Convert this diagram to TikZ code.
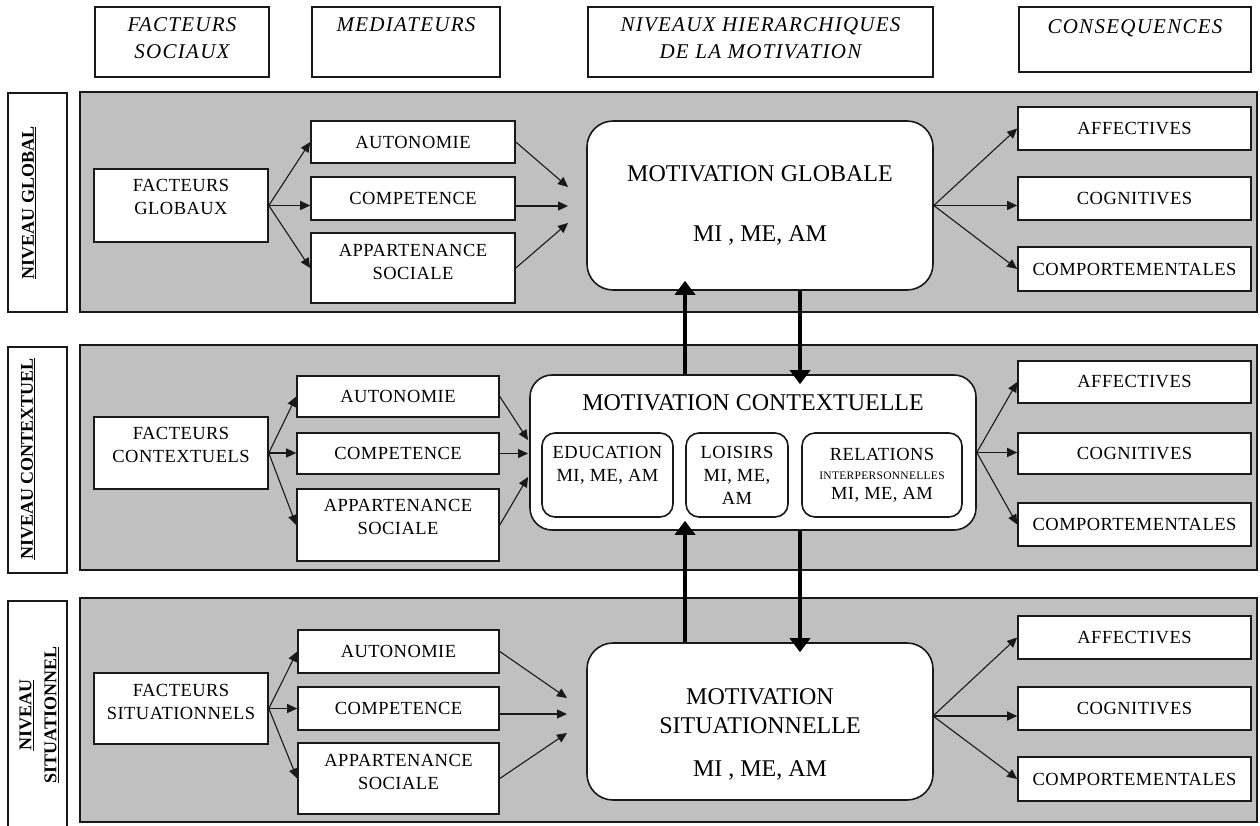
\documentclass[tikz,border=0pt]{standalone}
\usepackage{fontspec}
\setmainfont{Liberation Serif}
\newfontfamily\headfam[LetterSpace=6]{Liberation Serif}
\newfontfamily\bodyfam[LetterSpace=2.5]{Liberation Serif}
\usetikzlibrary{arrows.meta,calc}
\definecolor{bandgrey}{RGB}{192,192,192}
\definecolor{linec}{RGB}{25,25,25}
\newcommand\fBody{\bodyfam\fontsize{18.5}{23}\selectfont}
\newcommand\fHead{\headfam\fontsize{21}{27}\selectfont\itshape}
\newcommand\fBig{\fontsize{24}{29}\selectfont}
\newcommand\fTiny{\fontsize{11.5}{13}\selectfont}
\newcommand\fLab{\fontsize{18}{25}\selectfont\bfseries}
\begin{document}
\begin{tikzpicture}[x=1pt,y=-1pt,
  box/.style={draw=linec,line width=1.6pt,fill=white,inner sep=0pt,align=center,font=\fBody},
  rbox/.style={box,rounded corners=#1},
  txt/.style={inner sep=0pt,align=center,font=\fBody},
  htxt/.style={inner sep=0pt,align=center,font=\fHead},
  band/.style={draw=linec,line width=1.6pt,fill=bandgrey,inner sep=0pt},
  labbox/.style={draw=linec,line width=1.6pt,fill=white,inner sep=0pt},
  labtxt/.style={inner sep=0pt,align=center,font=\fLab,rotate=90},
  tarrow/.style={draw=linec,line width=1.1pt,-{Triangle[length=10pt,width=9pt]}},
  barrow/.style={draw=black,line width=4pt,-{Triangle[length=14pt,width=20pt]},shorten >=-10pt},
]
\fill[white] (0,0) rectangle (1260,825);
\useasboundingbox (0,0) rectangle (1260,825);

% ---------- headers ----------
\node[box, minimum width=174, minimum height=70] (hfs) at (182,42) {};
\node[htxt] (hfs-t) at (182,38.5) {FACTEURS\\SOCIAUX};
\node[box, minimum width=188, minimum height=70] (hmed) at (406,42) {};
\node[htxt] (hmed-t) at (406,25) {MEDIATEURS};
\node[box, minimum width=345, minimum height=70] (hniv) at (760.5,42) {};
\node[htxt] (hniv-t) at (760.5,38.5) {NIVEAUX HIERARCHIQUES\\DE LA MOTIVATION};
\node[box, minimum width=232, minimum height=65] (hcons) at (1135,39.5) {};
\node[htxt] (hcons-t) at (1135,28) {CONSEQUENCES};

% ---------- bands and side labels ----------
\node[band, minimum width=1177, minimum height=220] (band1) at (668.5,202) {};
\node[band, minimum width=1177, minimum height=225] (band2) at (668.5,457.5) {};
\node[band, minimum width=1177, minimum height=224] (band3) at (668.5,710) {};

\node[labbox, minimum width=59, minimum height=219] (lab1) at (37.5,202.5) {};
\node[labtxt] (lab1-t) at (29,203) {\underline{NIVEAU GLOBAL}};
\node[labbox, minimum width=59, minimum height=226] (lab2) at (37.5,460) {};
\node[labtxt] (lab2-t) at (28,459) {\underline{NIVEAU CONTEXTUEL}};
\node[labbox, minimum width=59, minimum height=239] (lab3) at (37.5,720.5) {};
\node[labtxt] (lab3-t) at (39,715) {\underline{NIVEAU}\\\underline{SITUATIONNEL}};

% ---------- band 1: global ----------
\node[box, minimum width=174, minimum height=73] (fac1) at (181,205.5) {};
\node[txt] (fac1-t) at (181,197) {FACTEURS\\GLOBAUX};
\node[box, minimum width=204, minimum height=42] (aut1) at (413,142) {AUTONOMIE};
\node[box, minimum width=204, minimum height=43] (comp1) at (413,198.5) {COMPETENCE};
\node[box, minimum width=204, minimum height=70] (app1) at (413,268) {};
\node[txt] (app1-t) at (413,261.5) {APPARTENANCE\\SOCIALE};
\node[rbox=26, minimum width=346, minimum height=169, font=\fBig] (mg) at (760,205.5)
  {MOTIVATION GLOBALE\\[31pt]MI , ME, AM};
\node[box, minimum width=233, minimum height=43] (aff1) at (1134.5,128.5) {AFFECTIVES};
\node[box, minimum width=233, minimum height=43] (cog1) at (1134.5,198.5) {COGNITIVES};
\node[box, minimum width=233, minimum height=44] (cmp1) at (1134.5,269) {COMPORTEMENTALES};

% ---------- band 2: contextuel ----------
\node[box, minimum width=174, minimum height=72] (fac2) at (181,453) {};
\node[txt] (fac2-t) at (181,444.5) {FACTEURS\\CONTEXTUELS};
\node[box, minimum width=202, minimum height=41] (aut2) at (398,396.5) {AUTONOMIE};
\node[box, minimum width=202, minimum height=41] (comp2) at (398,453.5) {COMPETENCE};
\node[box, minimum width=202, minimum height=72] (app2) at (398,525) {};
\node[txt] (app2-t) at (398,516.5) {APPARTENANCE\\SOCIALE};
\node[rbox=22, minimum width=446, minimum height=155] (mc) at (753,452.5) {};
\node[txt, font=\fBig] (mc-t) at (753,403) {MOTIVATION CONTEXTUELLE};
\node[rbox=13, minimum width=131, minimum height=84] (edu) at (607.5,475) {};
\node[txt] (edu-t) at (607.5,465) {EDUCATION\\MI, ME, AM};
\node[rbox=13, minimum width=102, minimum height=84] (loi) at (737,475) {LOISIRS\\MI, ME,\\AM};
\node[rbox=13, minimum width=160, minimum height=84] (rel) at (882,475)
  {RELATIONS\\[-4pt]{\fTiny INTERPERSONNELLES}\\[-3pt]MI, ME, AM};
\node[box, minimum width=233, minimum height=42] (aff2) at (1134.5,382) {AFFECTIVES};
\node[box, minimum width=233, minimum height=41] (cog2) at (1134.5,453.5) {COGNITIVES};
\node[box, minimum width=233, minimum height=43] (cmp2) at (1134.5,524.5) {COMPORTEMENTALES};

% ---------- band 3: situationnel ----------
\node[box, minimum width=174, minimum height=71] (fac3) at (181,708.5) {};
\node[txt] (fac3-t) at (181,702) {FACTEURS\\SITUATIONNELS};
\node[box, minimum width=201, minimum height=43] (aut3) at (398.5,651.5) {AUTONOMIE};
\node[box, minimum width=201, minimum height=43] (comp3) at (398.5,708.5) {COMPETENCE};
\node[box, minimum width=201, minimum height=71] (app3) at (398.5,778.5) {};
\node[txt] (app3-t) at (398.5,771.5) {APPARTENANCE\\SOCIALE};
\node[rbox=26, minimum width=346, minimum height=157] (ms) at (760,721.5) {};
\node[txt, font=\fBig] (ms-t) at (760,734) {MOTIVATION\\SITUATIONNELLE\\[14pt]MI , ME, AM};
\node[box, minimum width=233, minimum height=43] (aff3) at (1134.5,637.5) {AFFECTIVES};
\node[box, minimum width=233, minimum height=43] (cog3) at (1134.5,708.5) {COGNITIVES};
\node[box, minimum width=233, minimum height=44] (cmp3) at (1134.5,779) {COMPORTEMENTALES};

% ---------- free arrow ends ----------
\coordinate (m1a) at (568,187);
\coordinate (m1b) at (568,206);
\coordinate (m1c) at (568,223);
\coordinate (m2a) at (528,440);
\coordinate (m2b) at (528,453.5);
\coordinate (m2c) at (528,477);
\coordinate (m3a) at (567,698);
\coordinate (m3b) at (567,714);
\coordinate (m3c) at (567,733);
\coordinate (so3) at (933,716);
\coordinate (vx1) at (685,0);
\coordinate (vx2) at (800,0);

% ---------- thin arrows ----------
\foreach \i in {1,2,3}{
  \draw[tarrow] (fac\i.east) -- (aut\i.west);
  \draw[tarrow] (fac\i.east) -- (fac\i.east -| comp\i.west);
  \draw[tarrow] (fac\i.east) -- (app\i.west);
}
\draw[tarrow] (aut1.east) -- (m1a);
\draw[tarrow] (comp1.east |- m1b) -- (m1b);
\draw[tarrow] (app1.east) -- (m1c);
\draw[tarrow] (aut2.east) -- (m2a);
\draw[tarrow] (comp2.east |- m2b) -- (m2b);
\draw[tarrow] (app2.east) -- (m2c);
\draw[tarrow] (aut3.east) -- (m3a);
\draw[tarrow] (comp3.east |- m3b) -- (m3b);
\draw[tarrow] (app3.east) -- (m3c);

\draw[tarrow] (mg.east) -- (aff1.west);
\draw[tarrow] (mg.east) -- (mg.east -| cog1.west);
\draw[tarrow] (mg.east) -- (cmp1.west);
\draw[tarrow] (mc.east) -- (aff2.west);
\draw[tarrow] (mc.east) -- (mc.east -| cog2.west);
\draw[tarrow] (mc.east) -- (cmp2.west);
\draw[tarrow] (so3) -- (aff3.west);
\draw[tarrow] (so3) -- (so3 -| cog3.west);
\draw[tarrow] (so3) -- (cmp3.west);

% ---------- thick vertical arrows ----------
\draw[barrow] (vx1 |- mc.north) -- (vx1 |- mg.south);
\draw[barrow] (vx2 |- mg.south) -- (vx2 |- mc.north);
\draw[barrow] (vx1 |- ms.north) -- (vx1 |- mc.south);
\draw[barrow] (vx2 |- mc.south) -- (vx2 |- ms.north);
\end{tikzpicture}
\end{document}
